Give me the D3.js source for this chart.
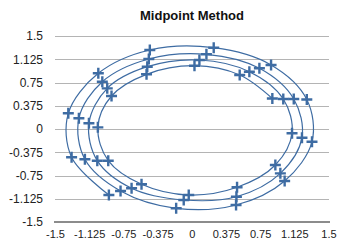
<!DOCTYPE html>
<html>
<head>
<meta charset="utf-8">
<script src="https://cdn.jsdelivr.net/npm/d3@7"></script>
<style>
  html, body { margin: 0; padding: 0; background: #fff; }
  svg { display: block; }
</style>
</head>
<body>
<svg id="chart" width="339" height="244"></svg>
<script>
// Spiral points (in drawing order, inner start -> outer end)
const xValues = [
  0.884, 0.526, 0.030, -0.496, -0.880, -1.030, -0.916, -0.551, -0.033, 0.497, 0.917, 1.100,
  1.004, 0.632, 0.084, -0.488, -0.927, -1.128, -1.036, -0.660, -0.088, 0.490, 0.972, 1.209,
  1.119, 0.742, 0.161, -0.471, -0.981, -1.238, -1.172, -0.781, -0.171, 0.486, 1.019, 1.319,
  1.262, 0.870, 0.241, -0.460, -1.025, -1.354, -1.318, -0.909
];
const yValues = [
  0.492, 0.871, 1.021, 0.882, 0.532, 0.027, -0.511, -0.892, -1.065, -0.940, -0.581, -0.069,
  0.484, 0.924, 1.113, 1.005, 0.656, 0.092, -0.511, -0.956, -1.145, -1.092, -0.715, -0.140,
  0.484, 0.979, 1.205, 1.129, 0.763, 0.173, -0.489, -1.000, -1.279, -1.226, -0.839, -0.205,
  0.476, 1.032, 1.311, 1.274, 0.898, 0.253, -0.456, -1.065
];
const tickValues = [-1.5, -1.125, -0.75, -0.375, 0, 0.375, 0.75, 1.125, 1.5];
const tickLabels = ["-1.5", "-1.125", "-0.75", "-0.375", "0", "0.375", "0.75", "1.125", "1.5"];
const title = "Midpoint Method";

const points = xValues.map((x, i) => ({ x: x, y: yValues[i] }));

const svg = d3.select("#chart");
const color = "#3e6ca3";

const x = d3.scaleLinear().domain([-1.5, 1.5]).range([55, 328.5]);
const y = d3.scaleLinear().domain([-1.5, 1.5]).range([222, 36]);

// Title
svg.append("text")
  .attr("x", 192).attr("y", 20)
  .attr("text-anchor", "middle")
  .style("font-family", "'Liberation Sans', Arial, sans-serif")
  .style("font-weight", "bold")
  .style("font-size", "13px")
  .attr("fill", "#111")
  .text(title);

// Horizontal gridlines via y axis
const yAxis = d3.axisLeft(y)
  .tickValues(tickValues)
  .tickSize(-(328.5 - 55))
  .tickPadding(12)
  .tickFormat((d, i) => tickLabels[i]);
const gy = svg.append("g").attr("transform", "translate(55,0)").call(yAxis);
gy.select(".domain").remove();
gy.selectAll(".tick line")
  .attr("stroke", "#b4b4b4").attr("stroke-width", 1)
  .attr("shape-rendering", "crispEdges");
gy.selectAll(".tick text")
  .style("font-family", "'Liberation Sans', Arial, sans-serif")
  .style("font-size", "12px")
  .attr("fill", "#222");
gy.selectAll(".tick").filter(d => d === -1.5).select("line").remove();

// X axis
const xAxis = d3.axisBottom(x)
  .tickValues(tickValues)
  .tickSize(0)
  .tickPadding(8)
  .tickFormat((d, i) => tickLabels[i]);
const gx = svg.append("g").attr("transform", "translate(0,222)").call(xAxis);
gx.select(".domain")
  .attr("stroke", "#8c8c8c").attr("stroke-width", 2)
  .attr("d", `M${x(-1.5) - 1},0H${x(1.5) + 1.5}`);
gx.selectAll(".tick text")
  .style("font-family", "'Liberation Sans', Arial, sans-serif")
  .style("font-size", "11px")
  .attr("fill", "#222");

// Smoothed spiral line
const line = d3.line()
  .x(d => x(d.x))
  .y(d => y(d.y))
  .curve(d3.curveCatmullRom.alpha(0.5));

svg.append("path")
  .datum(points)
  .attr("d", line)
  .attr("fill", "none")
  .attr("stroke", color)
  .attr("stroke-width", 1.2);

// Plus markers
const m = 5.5;
svg.append("g").selectAll("path.marker")
  .data(points)
  .join("path")
  .attr("class", "marker")
  .attr("d", d => {
    const cx = x(d.x), cy = y(d.y);
    return `M${cx - m},${cy}H${cx + m}M${cx},${cy - m}V${cy + m}`;
  })
  .attr("stroke", color)
  .attr("stroke-width", 2.4)
  .attr("fill", "none");
</script>
</body>
</html>
